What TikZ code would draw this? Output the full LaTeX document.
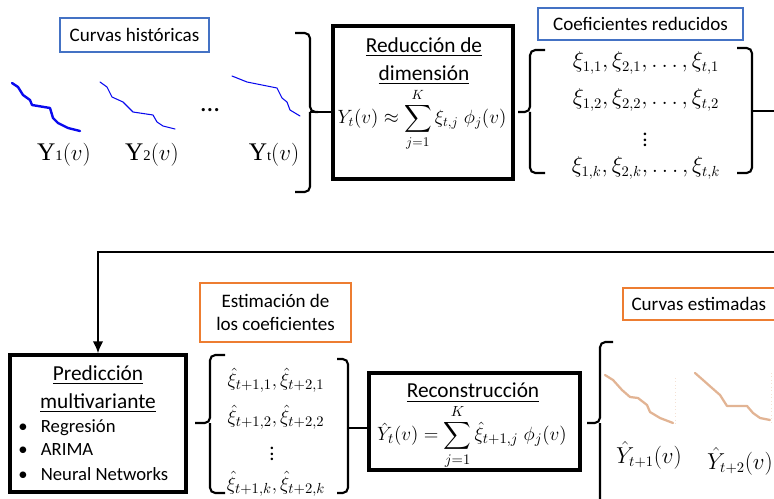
\documentclass[tikz,border=0pt]{standalone}
\usepackage{amsmath}
\usepackage{fontspec}
\setmainfont{Carlito}
\newfontfamily\timesfont{Liberation Serif}
\usetikzlibrary{arrows.meta}
\definecolor{lblblue}{HTML}{4472C4}
\definecolor{lblorange}{HTML}{ED7D31}
\definecolor{curveblue}{HTML}{0A0AEE}
\definecolor{curveorange}{HTML}{E2B494}
\newcommand\curvelab[1]{{\timesfont Y{\fontsize{11}{12}\selectfont #1}}$(v)$}
\tikzset{
  lbl/.style={draw=#1, line width=0.9pt, inner sep=0pt, align=center,
    font=\fontsize{14.3}{17.5}\selectfont},
  stage/.style={draw, line width=2.6pt, inner sep=0pt},
  ttl/.style={align=center, font=\fontsize{16}{21}\selectfont},
  item/.style={anchor=west, inner sep=0pt, font=\fontsize{14}{15}\selectfont},
  coef/.style={inner sep=0pt, font=\fontsize{16}{18}\selectfont},
  hcoef/.style={inner sep=0pt, font=\fontsize{15.5}{18}\selectfont},
  form/.style={inner sep=0pt, font=\fontsize{#1}{18}\selectfont},
  brc/.style={line width=1.6pt, rounded corners=4pt},
  link/.style={line width=1.5pt},
  hist/.style={curveblue, line join=round, line cap=round},
  est/.style={curveorange, line width=1.7pt, line join=round, line cap=round}
}
\begin{document}
\begin{tikzpicture}[x=0.75pt, y=-0.75pt]
  \clip (0,0) rectangle (774,499);
  % first row
  \node[lbl=lblblue, minimum width=111.75pt, minimum height=25.5pt] (hist) at (134.5,35) {Curvas históricas};
  \draw[hist, line width=1.8pt] (12,83) -- (18,87) -- (23,95) -- (30,100) -- (32,105) -- (50,108)
    -- (53,118) -- (58,123) -- (68,128) -- (80,131);
  \draw[hist, line width=0.8pt] (100,82) -- (107,87) -- (112,97) -- (123,102) -- (133,112) -- (153,115)
    -- (157,122) -- (163,126) -- (175,129);
  \draw[hist, line width=0.8pt] (232,76) -- (247,82) -- (277,88) -- (282,98) -- (287,102) -- (290,110)
    -- (300,116);
  \node[font=\fontsize{20}{20}\selectfont] (hdots) at (210,110) {…};
  \node[font=\fontsize{19}{20}\selectfont] (y1) at (64,155) {\curvelab{1}};
  \node[font=\fontsize{19}{20}\selectfont] (y2) at (152,155) {\curvelab{2}};
  \node[font=\fontsize{19}{20}\selectfont] (yt) at (274,155) {\curvelab{t}};
  \coordinate (b1) at (310,112);
  \draw[brc] (295,33) -| (b1) -- (318,112);
  \draw[brc] (295,192) -| (b1);
  \node[stage, minimum width=135pt, minimum height=114.75pt] (red) at (423,102.5) {};
  \draw[link] (b1) -- (b1 -| red.west);
  \node[ttl] (redT) at (424,61) {\underline{Reducción de}\\\underline{dimensión}};
  \node[form=14.2] (redF) at (422,120) {$\displaystyle Y_t(v)\approx\sum_{j=1}^{K}\xi_{t,j}\;\phi_j(v)$};
  \node[lbl=lblblue, minimum width=153.75pt, minimum height=24pt] (coefL) at (640.5,24) {Coeficientes reducidos};
  \coordinate (cbL) at (518,112);
  \draw[brc] (545,50) -| (530,112) -- (cbL);
  \draw[brc] (545,173) -| (530,112);
  \node[coef] (c1) at (646,63) {$\xi_{1,1},\xi_{2,1},\dots,\xi_{t,1}$};
  \node[coef] (c2) at (646,100) {$\xi_{1,2},\xi_{2,2},\dots,\xi_{t,2}$};
  \node[coef] (cv) at (645,136) {$\vdots$};
  \node[coef] (ck) at (646,168) {$\xi_{1,k},\xi_{2,k},\dots,\xi_{t,k}$};
  \coordinate (cbR) at (752,111);
  \draw[brc] (737,48) -| (cbR);
  \draw[brc] (737,173) -| (cbR);
  % feedback to second row
  \coordinate (offR) at (800,111);
  \coordinate (turn) at (98,252);
  \node[stage, minimum width=132pt, minimum height=102.75pt] (pred) at (98,423.5) {};
  \draw[link, -{Latex[length=9pt, width=8pt]}] (cbR) -- (offR) |- (turn) -- (pred.north);
  % second row
  \node[ttl] (predT) at (98,389) {\underline{Predicción}\\\underline{multivariante}};
  \node[item] (it1) at (18,428) {\textbullet\hspace{10pt}Regresión};
  \node[item] (it2) at (18,450) {\textbullet\hspace{10pt}ARIMA};
  \node[item] (it3) at (18,474) {\textbullet\hspace{10pt}Neural Networks};
  \node[lbl=lblorange, minimum width=113.25pt, minimum height=44.25pt] (estL) at (275.5,312.5) {Estimación de\\los coeficientes};
  \coordinate (hbL) at (195,423);
  \draw[brc] (225,355) -| (210,423) -- (hbL);
  \draw[brc] (225,493) -| (210,423);
  \node[hcoef] (h1) at (276,380) {$\hat{\xi}_{t+1,1},\hat{\xi}_{t+2,1}$};
  \node[hcoef] (h2) at (276,417) {$\hat{\xi}_{t+1,2},\hat{\xi}_{t+2,2}$};
  \node[hcoef] (hv) at (272,450) {$\vdots$};
  \node[hcoef] (hk) at (276,484) {$\hat{\xi}_{t+1,k},\hat{\xi}_{t+2,k}$};
  \coordinate (hbR) at (348,428);
  \draw[brc] (337,359) -| (hbR);
  \draw[brc] (337,493) -| (hbR);
  \node[stage, minimum width=158.25pt, minimum height=72.75pt] (rec) at (474.5,421.5) {};
  \draw[link] (hbR) -- (hbR -| rec.west);
  \node[ttl] (recT) at (473,393) {\underline{Reconstrucción}};
  \node[form=15] (recF) at (472,437) {$\displaystyle \hat{Y}_t(v)=\sum_{j=1}^{K}\hat{\xi}_{t+1,j}\;\phi_j(v)$};
  \coordinate (ebL) at (587,423);
  \draw[brc] (613,342) -| (600,423) -- (ebL);
  \draw[brc] (613,520) -| (600,423);
  \node[lbl=lblorange, minimum width=117.75pt, minimum height=24pt] (estC) at (701.5,304) {\hspace{-4pt}Curvas estimadas};
  \draw[est] (605,375) -- (613,380) -- (622,390) -- (630,397) -- (638,398) -- (647,405) -- (650,412)
    -- (660,418) -- (673,423);
  \draw[est] (695,373) -- (703,380) -- (712,388) -- (720,395) -- (727,406) -- (747,406) -- (753,413)
    -- (760,418) -- (770,420);
  \draw[curveorange!40, dotted, line width=0.6pt] (675,378) -- (675,424);
  \draw[curveorange!40, dotted, line width=0.6pt] (771,373) -- (771,422);
  \node[font=\fontsize{16}{18}\selectfont] (yh1) at (649,455) {$\hat{Y}_{t+1}(v)$};
  \node[font=\fontsize{16}{18}\selectfont] (yh2) at (740,461) {$\hat{Y}_{t+2}(v)$};
\end{tikzpicture}
\end{document}
